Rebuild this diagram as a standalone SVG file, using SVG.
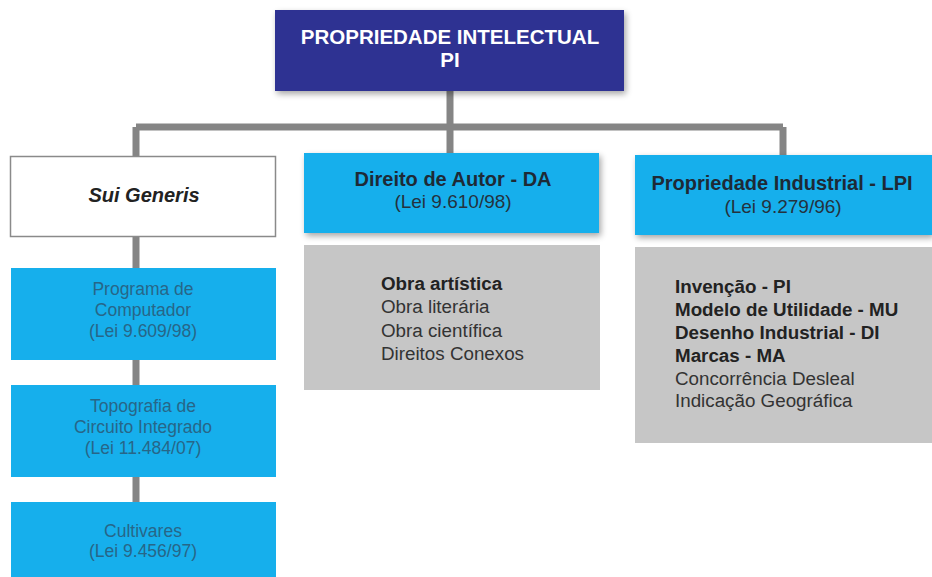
<svg xmlns="http://www.w3.org/2000/svg" width="932" height="577" viewBox="0 0 932 577">
<defs>
<filter id="sh" x="-10%" y="-20%" width="125%" height="150%">
<feGaussianBlur in="SourceAlpha" stdDeviation="3"/>
<feOffset dx="2" dy="3" result="b"/>
<feComponentTransfer><feFuncA type="linear" slope="0.35"/></feComponentTransfer>
<feMerge><feMergeNode/><feMergeNode in="SourceGraphic"/></feMerge>
</filter>
<style>
text{font-family:"Liberation Sans",Arial,sans-serif}
.blue{fill:#16afec}
.gray{fill:#c6c6c6}
.conn{stroke:#858585;stroke-width:7;fill:none}
.h{font-size:20px;font-weight:bold;fill:#1e2a36;text-anchor:middle}
.sub{font-size:19px;fill:#24323e;text-anchor:middle}
.lst{font-size:17.5px;fill:#276688;text-anchor:middle}
.b{font-size:18.8px;font-weight:bold;fill:#222}
.r{font-size:18.8px;fill:#333}
</style>
</defs>
<rect width="932" height="577" fill="#ffffff"/>
<g id="connectors">
<path class="conn" d="M450 91 V127 M136 127 H783 M136 127 V156 M450 127 V153 M783 127 V155 M136 237 V268 M136 360 V385 M136 477 V502"/>
</g>
<g id="pi">
<rect x="275" y="10" width="349" height="81" fill="#2e3192" filter="url(#sh)"/>
<text x="450" y="44" text-anchor="middle" font-size="20.5" font-weight="bold" fill="#ffffff">PROPRIEDADE INTELECTUAL</text>
<text x="450" y="67" text-anchor="middle" font-size="20.5" font-weight="bold" fill="#ffffff">PI</text>
</g>
<g id="sui-generis">
<rect x="10.5" y="156.5" width="265" height="80" fill="#ffffff" stroke="#8a8a8a" stroke-width="1.5"/>
<text x="144" y="202" text-anchor="middle" font-size="20" font-weight="bold" font-style="italic" fill="#222">Sui Generis</text>
</g>
<g id="direito-autor">
<rect class="blue" x="304" y="153" width="295" height="80" filter="url(#sh)"/>
<text class="h" x="453" y="186">Direito de Autor - DA</text>
<text class="sub" x="453" y="208">(Lei 9.610/98)</text>
</g>
<g id="direito-autor-lista">
<rect class="gray" x="304" y="245" width="296" height="145"/>
<text class="b" x="381" y="290">Obra artística</text>
<text class="r" x="381" y="313">Obra literária</text>
<text class="r" x="381" y="337">Obra científica</text>
<text class="r" x="381" y="360">Direitos Conexos</text>
</g>
<g id="propriedade-industrial">
<rect class="blue" x="635" y="155" width="297" height="80" filter="url(#sh)"/>
<text class="h" x="782" y="190">Propriedade Industrial - LPI</text>
<text class="sub" x="783" y="213">(Lei 9.279/96)</text>
</g>
<g id="propriedade-industrial-lista">
<rect class="gray" x="635" y="247" width="297" height="196"/>
<text class="b" x="675" y="293">Invenção - PI</text>
<text class="b" x="675" y="316">Modelo de Utilidade - MU</text>
<text class="b" x="675" y="339">Desenho Industrial - DI</text>
<text class="b" x="675" y="362">Marcas - MA</text>
<text class="r" x="675" y="385">Concorrência Desleal</text>
<text class="r" x="675" y="407" fill="#555">Indicação Geográfica</text>
</g>
<g id="programa-computador">
<rect class="blue" x="11" y="268" width="265" height="92"/>
<text class="lst" x="143" y="295">Programa de</text>
<text class="lst" x="143" y="316">Computador</text>
<text class="lst" x="143" y="337">(Lei 9.609/98)</text>
</g>
<g id="topografia">
<rect class="blue" x="11" y="385" width="265" height="92"/>
<text class="lst" x="143" y="412">Topografia de</text>
<text class="lst" x="143" y="433">Circuito Integrado</text>
<text class="lst" x="143" y="454">(Lei 11.484/07)</text>
</g>
<g id="cultivares">
<rect class="blue" x="11" y="502" width="265" height="75"/>
<text class="lst" x="143" y="537">Cultivares</text>
<text class="lst" x="143" y="557">(Lei 9.456/97)</text>
</g>
</svg>
